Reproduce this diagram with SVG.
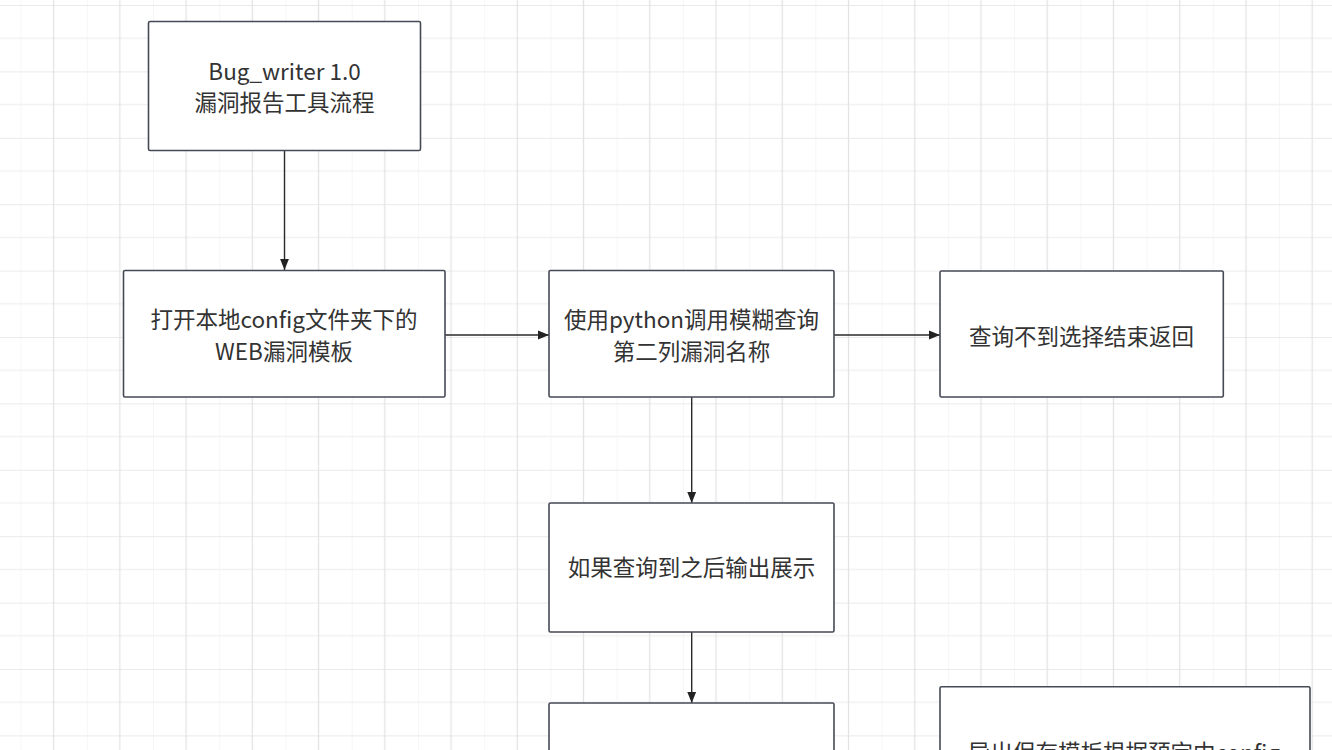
<svg xmlns="http://www.w3.org/2000/svg" width="1332" height="750" viewBox="0 0 1332 750">
<defs>
<pattern id="grid" patternUnits="userSpaceOnUse" x="20.5" y="5" width="66.24" height="66.4">
<line x1="0" y1="0" x2="0" y2="66.4" stroke="#f1f1f3" stroke-width="1.3"/>
<line x1="0" y1="33.2" x2="66.24" y2="33.2" stroke="#f1f1f3" stroke-width="1.3"/>
<line x1="33.12" y1="0" x2="33.12" y2="66.4" stroke="#e3e3e6" stroke-width="1.3"/>
<line x1="0" y1="0" x2="66.24" y2="0" stroke="#e3e3e6" stroke-width="1.3"/>
</pattern>
<marker id="arr" viewBox="0 0 10 10" refX="10" refY="5" markerWidth="11" markerHeight="11" markerUnits="userSpaceOnUse" orient="auto">
<path d="M0,1 L10,5 L0,9 Z" fill="#222"/>
</marker>
</defs>
<style>
.box{fill:#ffffff;stroke:#454a55;stroke-width:1.6}
.t{font-family:"Noto Sans CJK SC","Noto Sans",sans-serif;font-size:22.5px;fill:#333333;text-anchor:middle}
.c{stroke:#2a2a2a;stroke-width:1.4;fill:none}
</style>
<rect width="1332" height="750" fill="#ffffff"/>
<rect width="1332" height="750" fill="url(#grid)"/>
<g id="connectors">
<line class="c" x1="284.5" y1="150.5" x2="284.5" y2="270" marker-end="url(#arr)"/>
<line class="c" x1="445" y1="335" x2="549" y2="335" marker-end="url(#arr)"/>
<line class="c" x1="834" y1="335" x2="940" y2="335" marker-end="url(#arr)"/>
<line class="c" x1="691.7" y1="397" x2="691.7" y2="503" marker-end="url(#arr)"/>
<line class="c" x1="691.7" y1="632" x2="691.7" y2="703" marker-end="url(#arr)"/>
</g>
<g id="n1">
<rect class="box" x="148.5" y="21.5" width="272" height="129" rx="1.5"/>
<text class="t" x="284.5" y="80">Bug_writer 1.0</text>
<text class="t" x="284.5" y="111">漏洞报告工具流程</text>
</g>
<g id="n2">
<rect class="box" x="123.5" y="270.5" width="321.5" height="126.5" rx="1.5"/>
<text class="t" x="284" y="328">打开本地config文件夹下的</text>
<text class="t" x="284" y="360">WEB漏洞模板</text>
</g>
<g id="n3">
<rect class="box" x="549" y="270.5" width="285" height="126.5" rx="1.5"/>
<text class="t" x="691.5" y="328">使用python调用模糊查询</text>
<text class="t" x="691.5" y="360">第二列漏洞名称</text>
</g>
<g id="n4">
<rect class="box" x="940" y="271" width="283.3" height="126" rx="1.5"/>
<text class="t" x="1081.5" y="345">查询不到选择结束返回</text>
</g>
<g id="n5">
<rect class="box" x="549" y="503" width="285" height="129" rx="1.5"/>
<text class="t" x="691.5" y="576">如果查询到之后输出展示</text>
</g>
<g id="n6">
<rect class="box" x="549" y="703" width="285" height="100" rx="1.5"/>
</g>
<g id="n7">
<rect class="box" x="940" y="686.7" width="370" height="100" rx="1.5"/>
<text class="t" x="1124" y="761">导出保存模板根据预定中config</text>
</g>
</svg>
